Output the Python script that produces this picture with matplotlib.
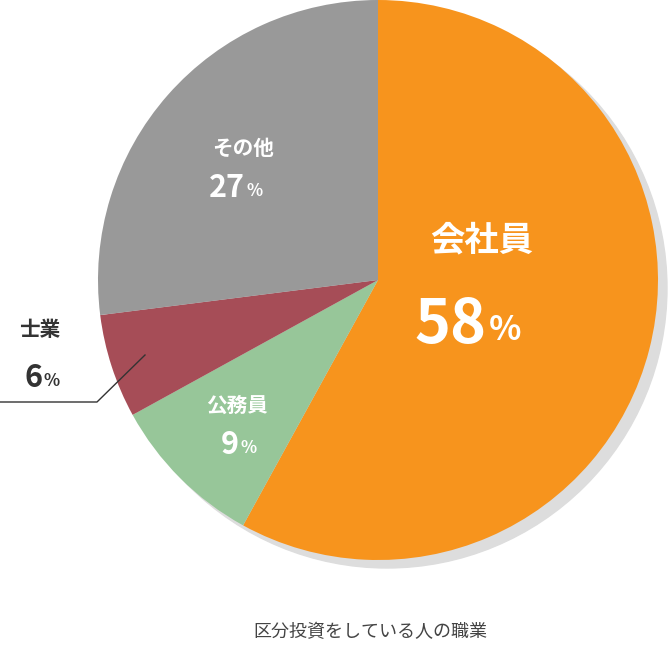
import matplotlib
matplotlib.use("Agg")
import matplotlib.pyplot as plt
from matplotlib.patches import Circle

plt.rcParams['font.family'] = ['Noto Sans CJK JP', 'DejaVu Sans']

categories = ['会社員', '公務員', '士業', 'その他']
values = [58, 9, 6, 27]
colors = ['#F7941D', '#97C699', '#A64D57', '#999999']
title = '区分投資をしている人の職業'

H = 654
fig = plt.figure(figsize=(6.7, 6.54), dpi=100)
ax = fig.add_axes([0, 0, 1, 1])
ax.set_xlim(0, 670); ax.set_ylim(0, H); ax.axis('off')

cx, cy, r = 378, H - 280, 280
ax.add_patch(Circle((cx + 9, cy - 8), r, color='#DDDDDD', zorder=0))
ax.pie(values, colors=colors, startangle=90, counterclock=False,
       center=(cx, cy), radius=r, frame=True,
       wedgeprops=dict(linewidth=0))
ax.set_xlim(0, 670); ax.set_ylim(0, H); ax.axis('off'); ax.set_aspect('auto')

def lab(x, yname, ynum, name, num, nsz, psz, color='white'):
    ax.text(x, H - yname, name, ha='center', va='center', fontsize=nsz * 0.55,
            color=color, fontweight='bold', zorder=5)
    ax.text(x + psz * 0.1, H - ynum, str(num), ha='right', va='center',
            fontsize=psz, color=color, fontweight='bold', zorder=5)
    ax.text(x + psz * 0.15, H - ynum - psz * 0.12, '%', ha='left', va='center',
            fontsize=psz * 0.55, color=color, fontweight='bold', zorder=5)

lab(482, 240, 325, categories[0], values[0], 45, 44)
lab(243, 148, 188, categories[3], values[3], 27, 22)
lab(237, 405, 445, categories[1], values[1], 27, 22)
lab(40, 330, 378, categories[2], values[2], 27, 22, color='#333333')

ax.plot([145, 97, 0], [H - 355, H - 402, H - 402], color='#333333', lw=1, zorder=5)

ax.text(370, H - 632, title, ha='center', va='center', fontsize=13, color='#444444')

fig.savefig('out.png', dpi=100)
